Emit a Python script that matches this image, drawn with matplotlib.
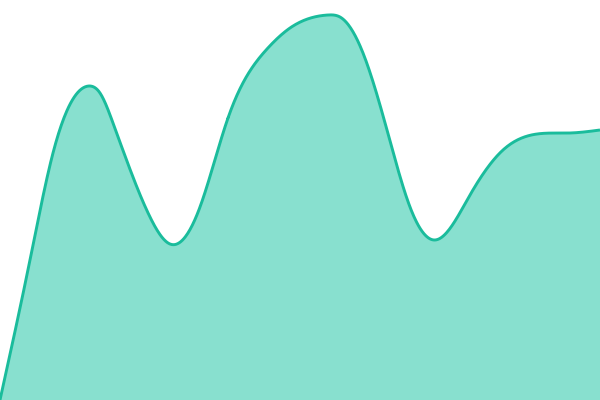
from matplotlib import pyplot as plt
import numpy as np

# points (x position, value on a 0..400 axis)
xs = np.array([0, 30, 53, 89, 100, 113, 150, 170, 200, 228, 267, 290, 328, 340,
               363, 387, 410, 435, 470, 503, 537, 570, 600], dtype=float)
ys = np.array([0, 140, 247, 314, 307, 277, 183, 156, 193, 282, 351, 372, 385, 383,
               347, 270, 193, 160, 205, 250, 266, 267, 270], dtype=float)


def natural_spline(x, y, n=40):
    # natural cubic spline through the points
    m = len(x)
    h = np.diff(x)
    s = np.diff(y) / h
    A = np.zeros((m, m))
    r = np.zeros(m)
    A[0, 0] = A[-1, -1] = 1
    for i in range(1, m - 1):
        A[i, i - 1] = h[i - 1]
        A[i, i] = 2 * (h[i - 1] + h[i])
        A[i, i + 1] = h[i]
        r[i] = 6 * (s[i] - s[i - 1])
    M = np.linalg.solve(A, r)
    px, py = [], []
    for i in range(m - 1):
        u = np.linspace(0, h[i], n)
        a = (M[i + 1] - M[i]) / (6 * h[i])
        b = M[i] / 2
        c = s[i] - h[i] * (2 * M[i] + M[i + 1]) / 6
        px.append(x[i] + u)
        py.append(y[i] + c * u + b * u**2 + a * u**3)
    return np.concatenate(px), np.concatenate(py)


cx, cy = natural_spline(xs, ys)

fig = plt.figure(figsize=(6, 4), dpi=100)
ax = fig.add_axes([0, 0, 1, 1])
ax.fill_between(cx, 0, cy, color='#88e0cf', linewidth=0)
ax.plot(cx, cy, color='#1abc9c', linewidth=2.1, solid_capstyle='butt')
ax.set_xlim(0, 600)
ax.set_ylim(0, 400)
ax.axis('off')
fig.savefig('out.png', dpi=100)
